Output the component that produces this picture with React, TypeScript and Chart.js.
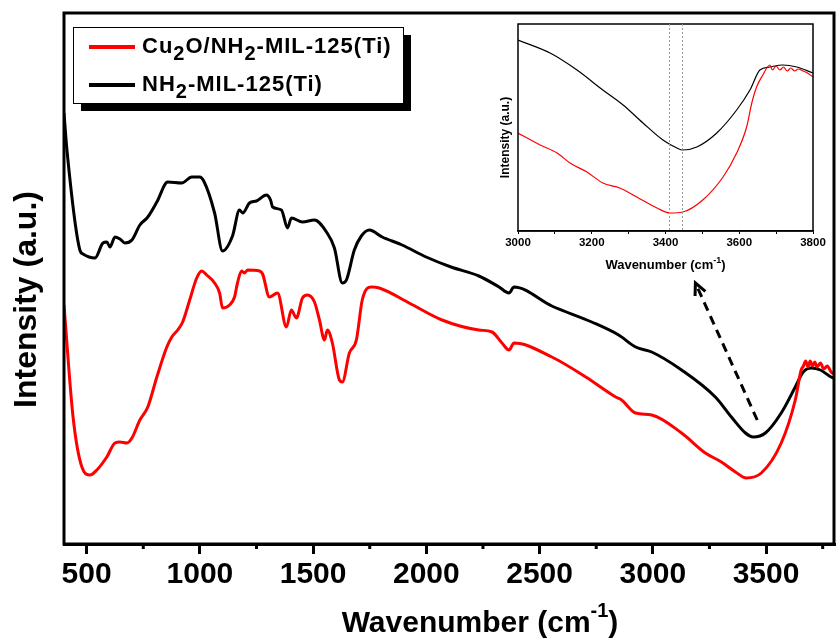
import React, { useEffect, useRef } from "react";
import { Chart, registerables } from "chart.js";

Chart.register(...registerables);

const FONT = "'Liberation Sans', Arial, Helvetica, sans-serif";

// ---------- main spectrum (wavenumber, intensity a.u.) ----------
const blackWn = [400, 413, 470, 484, 537, 572, 589, 603, 625, 647, 669, 700, 735, 770, 810, 858, 920, 964, 999, 1017, 1065, 1100, 1144, 1175, 1189, 1219, 1250, 1294, 1312, 1321, 1360, 1387, 1404, 1453, 1506, 1559, 1594, 1629, 1647, 1682, 1713, 1748, 1805, 1893, 1999, 2109, 2232, 2321, 2365, 2387, 2554, 2730, 2849, 2924, 2995, 3127, 3276, 3347, 3409, 3444, 3497, 3567, 3629, 3664, 3699, 3740, 3787, 3800];
const blackVal = [431, 394, 294, 290, 286, 301, 302, 297, 307, 305, 301, 304, 319, 327, 342, 362, 361, 367, 367, 363, 331, 293, 308, 334, 331, 341, 343, 349, 344, 337, 334, 316, 326, 322, 324, 312, 296, 261, 264, 294, 308, 314, 307, 299, 287, 277, 268, 257, 251, 257, 238, 222, 209, 197, 192, 174, 147, 127, 111, 107, 111, 131, 157, 172, 176, 174, 167, 166];

const redWn = [400, 440, 479, 515, 545, 589, 625, 647, 678, 700, 735, 770, 810, 854, 876, 902, 924, 955, 986, 1008, 1030, 1065, 1087, 1100, 1131, 1153, 1166, 1184, 1197, 1211, 1263, 1277, 1307, 1343, 1382, 1404, 1426, 1453, 1475, 1506, 1528, 1550, 1563, 1585, 1616, 1629, 1660, 1691, 1717, 1757, 1792, 1924, 2069, 2232, 2290, 2334, 2365, 2387, 2554, 2704, 2836, 2862, 2924, 2995, 3127, 3232, 3303, 3365, 3413, 3479, 3567, 3629, 3655, 3665, 3675, 3685, 3695, 3705, 3715, 3725, 3740, 3755, 3770, 3787, 3800];
const redVal = [239, 127, 77, 69, 74, 87, 101, 102, 101, 106, 124, 137, 167, 197, 207, 214, 222, 244, 266, 273, 269, 261, 251, 236, 239, 247, 261, 273, 271, 274, 273, 270, 247, 251, 217, 234, 226, 246, 249, 242, 224, 204, 214, 201, 164, 162, 191, 204, 244, 257, 256, 241, 224, 214, 212, 201, 194, 201, 187, 167, 147, 144, 131, 129, 111, 91, 82, 72, 66, 71, 101, 144, 174, 178, 183, 177, 183, 178, 182, 177, 181, 175, 178, 172, 170];

const xTicks = [500, 1000, 1500, 2000, 2500, 3000, 3500];
const xMinorTicks = [750, 1250, 1750, 2250, 2750, 3250, 3750];

// dashed arrow pointing to the inset (data coordinates)
const arrowTail = { x: 3461, y: 124 };
const arrowHead = { x: 3188, y: 261 };

const legendItems = [
  { color: "#ff0000", parts: [{ t: "Cu" }, { t: "2", sub: true }, { t: "O/NH" }, { t: "2", sub: true }, { t: "-MIL-125(Ti)" }] },
  { color: "#000000", parts: [{ t: "NH" }, { t: "2", sub: true }, { t: "-MIL-125(Ti)" }] },
];

// ---------- inset (3000-3800 cm-1) ----------
const insetBlackWn = [3000, 3087, 3160, 3230, 3285, 3339, 3393, 3431, 3447, 3485, 3539, 3593, 3629, 3656, 3683, 3718, 3756, 3800];
const insetBlackVal = [191, 178, 161, 141, 126, 108, 91, 83, 81, 84, 98, 121, 141, 161, 164, 166, 164, 158];
const insetRedWn = [3000, 3060, 3106, 3141, 3187, 3230, 3276, 3322, 3377, 3412, 3447, 3501, 3556, 3593, 3620, 3634, 3647, 3664, 3683, 3690, 3700, 3710, 3720, 3730, 3740, 3750, 3760, 3773, 3785, 3800];
const insetRedVal = [98, 86, 78, 68, 59, 48, 43, 34, 23, 18, 19, 31, 54, 78, 104, 128, 144, 156, 166, 161, 165, 161, 164, 160, 163, 160, 162, 160, 158, 154];
const insetXTicks = [3000, 3100, 3200, 3300, 3400, 3500, 3600, 3700, 3800];
const insetMarkers = [3410, 3446];

const toXY = (xs: number[], ys: number[]) => xs.map((x, i) => ({ x, y: ys[i] }));

function drawRich(ctx: CanvasRenderingContext2D, parts: any[], x: number, y: number, size: number, subSize: number, shift: number) {
  let cx = x;
  for (const p of parts) {
    const fs = p.sub || p.sup ? subSize : size;
    ctx.font = `bold ${fs}px ${FONT}`;
    const dy = p.sub ? shift : p.sup ? -shift : 0;
    ctx.fillText(p.t, cx, y + dy);
    cx += ctx.measureText(p.t).width;
  }
  return cx - x;
}
function measureRich(ctx: CanvasRenderingContext2D, parts: any[], size: number, subSize: number) {
  let w = 0;
  for (const p of parts) {
    const fs = p.sub || p.sup ? subSize : size;
    ctx.font = `bold ${fs}px ${FONT}`;
    w += ctx.measureText(p.t).width;
  }
  return w;
}

const mainDecor = {
  id: "mainDecor",
  afterDraw(chart: any) {
    const { ctx, chartArea: a, scales } = chart;
    const x = scales.x;
    const y = scales.y;
    ctx.save();
    // frame
    ctx.strokeStyle = "#000";
    ctx.lineWidth = 3;
    ctx.strokeRect(a.left, a.top, a.right - a.left, a.bottom - a.top);
    // minor ticks
    ctx.beginPath();
    for (const v of xMinorTicks) {
      const px = x.getPixelForValue(v);
      ctx.moveTo(px, a.bottom);
      ctx.lineTo(px, a.bottom + 5);
    }
    ctx.stroke();

    // dashed arrow
    const tx = x.getPixelForValue(arrowTail.x), ty = y.getPixelForValue(arrowTail.y);
    const hx = x.getPixelForValue(arrowHead.x), hy = y.getPixelForValue(arrowHead.y);
    ctx.setLineDash([9, 6]);
    ctx.lineWidth = 3;
    ctx.beginPath();
    ctx.moveTo(tx, ty);
    ctx.lineTo(hx, hy);
    ctx.stroke();
    ctx.setLineDash([]);
    const ang = Math.atan2(hy - ty, hx - tx);
    const hl = 13;
    ctx.beginPath();
    ctx.moveTo(hx - hl * Math.cos(ang - 0.45), hy - hl * Math.sin(ang - 0.45));
    ctx.lineTo(hx, hy);
    ctx.lineTo(hx - hl * Math.cos(ang + 0.45), hy - hl * Math.sin(ang + 0.45));
    ctx.stroke();

    // legend box with shadow
    const bx = a.left + 9, by = a.top + 14, bw = 330, bh = 76;
    ctx.fillStyle = "#000";
    ctx.fillRect(bx + 8, by + 8, bw, bh);
    ctx.fillStyle = "#fff";
    ctx.fillRect(bx, by, bw, bh);
    ctx.lineWidth = 1;
    ctx.strokeStyle = "#000";
    ctx.strokeRect(bx + 0.5, by + 0.5, bw, bh);
    legendItems.forEach((it, i) => {
      const ly = by + 20 + i * 38;
      ctx.strokeStyle = it.color;
      ctx.lineWidth = 4;
      ctx.beginPath();
      ctx.moveTo(bx + 16, ly);
      ctx.lineTo(bx + 62, ly);
      ctx.stroke();
      ctx.fillStyle = "#000";
      ctx.textBaseline = "alphabetic";
      ctx.textAlign = "left";
      (ctx as any).letterSpacing = "1px";
      drawRich(ctx, it.parts, bx + 69, ly + 6, 22, 20, 7);
      (ctx as any).letterSpacing = "0px";
    });

    // x title with superscript
    ctx.fillStyle = "#000";
    ctx.textAlign = "left";
    ctx.textBaseline = "alphabetic";
    const xt = [{ t: "Wavenumber (cm" }, { t: "-1", sup: true }, { t: ")" }];
    const w = measureRich(ctx, xt, 30, 20);
    drawRich(ctx, xt, (a.left + a.right) / 2 + 31 - w / 2, a.bottom + 88, 30, 20, 15);

    // y title
    ctx.save();
    ctx.translate(a.left - 28, (a.top + a.bottom) / 2 + 21);
    ctx.rotate(-Math.PI / 2);
    ctx.font = `bold 32px ${FONT}`;
    ctx.textAlign = "center";
    ctx.fillText("Intensity (a.u.)", 0, 0);
    ctx.restore();
    ctx.restore();
  },
};

const insetDecor = {
  id: "insetDecor",
  afterDraw(chart: any) {
    const { ctx, chartArea: a, scales } = chart;
    const x = scales.x;
    ctx.save();
    ctx.strokeStyle = "#000";
    ctx.lineWidth = 1.5;
    ctx.strokeRect(a.left, a.top, a.right - a.left, a.bottom - a.top);
    // dotted marker lines
    ctx.strokeStyle = "#999";
    ctx.lineWidth = 1;
    ctx.setLineDash([2, 2]);
    for (const m of insetMarkers) {
      const px = Math.round(x.getPixelForValue(m)) + 0.5;
      ctx.beginPath();
      ctx.moveTo(px, a.top);
      ctx.lineTo(px, a.bottom);
      ctx.stroke();
    }
    ctx.setLineDash([]);
    // x title
    ctx.fillStyle = "#000";
    ctx.textAlign = "left";
    ctx.textBaseline = "alphabetic";
    const xt = [{ t: "Wavenumber (cm" }, { t: "-1", sup: true }, { t: ")" }];
    const w = measureRich(ctx, xt, 13, 9);
    drawRich(ctx, xt, (a.left + a.right) / 2 - w / 2, a.bottom + 38, 13, 9, 6);
    // y title
    ctx.save();
    ctx.translate(a.left - 9, (a.top + a.bottom) / 2 + 10);
    ctx.rotate(-Math.PI / 2);
    ctx.font = `bold 12px ${FONT}`;
    ctx.textAlign = "center";
    ctx.fillText("Intensity (a.u.)", 0, 0);
    ctx.restore();
    ctx.restore();
  },
};

export default function App() {
  const mainRef = useRef<HTMLCanvasElement>(null);
  const insetRef = useRef<HTMLCanvasElement>(null);

  useEffect(() => {
    const main = new Chart(mainRef.current as HTMLCanvasElement, {
      type: "line",
      data: {
        datasets: [
          { label: "Cu2O/NH2-MIL-125(Ti)", data: toXY(redWn, redVal), borderColor: "#ff0000", borderWidth: 3, pointRadius: 0, fill: false, cubicInterpolationMode: "monotone" },
          { label: "NH2-MIL-125(Ti)", data: toXY(blackWn, blackVal), borderColor: "#000000", borderWidth: 3, pointRadius: 0, fill: false, cubicInterpolationMode: "monotone" },
        ],
      },
      options: {
        animation: false,
        responsive: false,
        events: [],
        layout: { padding: { top: 13, right: 2, left: 0, bottom: 0 } },
        plugins: { legend: { display: false }, tooltip: { enabled: false } },
        scales: {
          x: {
            type: "linear",
            min: 400,
            max: 3800,
            afterBuildTicks: (s: any) => {
              s.ticks = xTicks.map((v) => ({ value: v }));
            },
            afterFit: (s: any) => {
              s.height = 99;
            },
            ticks: {
              font: { family: FONT, size: 30, weight: "bold" },
              color: "#000",
              padding: 3,
              maxRotation: 0,
              autoSkip: false,
              callback: (v: any) => String(v),
            },
            grid: { display: true, drawOnChartArea: false, drawTicks: true, tickLength: 10, lineWidth: 3, color: "#000" },
            border: { display: true, width: 3, color: "#000" },
          },
          y: {
            type: "linear",
            min: 0,
            max: 531,
            ticks: { display: false },
            grid: { display: false },
            border: { display: false },
            afterFit: (s: any) => {
              s.width = 64;
            },
          },
        },
      } as any,
      plugins: [mainDecor],
    });

    const inset = new Chart(insetRef.current as HTMLCanvasElement, {
      type: "line",
      data: {
        datasets: [
          { label: "Cu2O/NH2-MIL-125(Ti)", data: toXY(insetRedWn, insetRedVal), borderColor: "#ff0000", borderWidth: 1.2, pointRadius: 0, fill: false, cubicInterpolationMode: "monotone" },
          { label: "NH2-MIL-125(Ti)", data: toXY(insetBlackWn, insetBlackVal), borderColor: "#000000", borderWidth: 1.2, pointRadius: 0, fill: false, cubicInterpolationMode: "monotone" },
        ],
      },
      options: {
        animation: false,
        responsive: false,
        events: [],
        layout: { padding: { top: 6, right: 17, left: 0, bottom: 0 } },
        plugins: { legend: { display: false }, tooltip: { enabled: false } },
        scales: {
          x: {
            type: "linear",
            min: 3000,
            max: 3800,
            afterBuildTicks: (s: any) => {
              s.ticks = insetXTicks.map((v) => ({ value: v }));
            },
            afterFit: (s: any) => {
              s.height = 49;
            },
            ticks: {
              font: { family: FONT, size: 11.5, weight: "bold" },
              color: "#000",
              padding: 2,
              maxRotation: 0,
              autoSkip: false,
              callback: (v: any) => (v % 200 === 0 ? String(v) : ""),
            },
            grid: { display: true, drawOnChartArea: false, drawTicks: true, tickLength: 3, lineWidth: 1, color: "#000" },
            border: { display: true, width: 1.5, color: "#000" },
          },
          y: {
            type: "linear",
            min: 0,
            max: 207,
            ticks: { display: false },
            grid: { display: false },
            border: { display: false },
            afterFit: (s: any) => {
              s.width = 48;
            },
          },
        },
      } as any,
      plugins: [insetDecor],
    });

    return () => {
      main.destroy();
      inset.destroy();
    };
  }, []);

  return (
    <div style={{ position: "fixed", left: 0, top: 0, width: 836, height: 643, background: "#fff", overflow: "hidden" }}>
      <canvas ref={mainRef} width={836} height={643} style={{ display: "block", position: "absolute", left: 0, top: 0 }} />
      <canvas ref={insetRef} width={360} height={262} style={{ display: "block", position: "absolute", left: 470, top: 18 }} />
    </div>
  );
}
